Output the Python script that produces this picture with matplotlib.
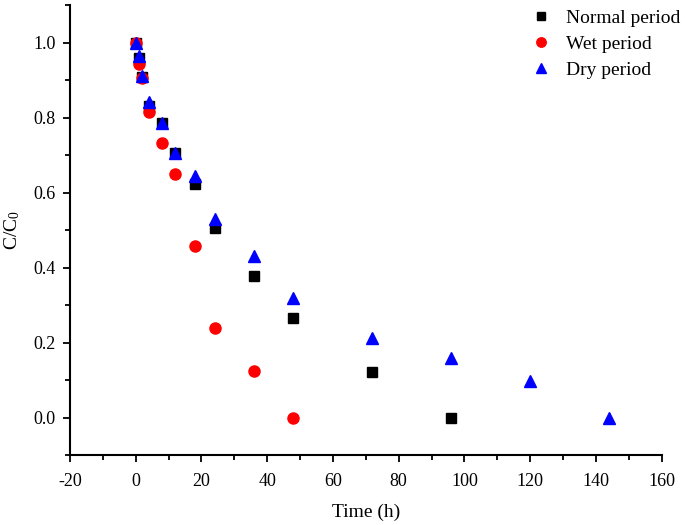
import numpy as np
import matplotlib
matplotlib.use('Agg')
import matplotlib.pyplot as plt
from matplotlib.ticker import MultipleLocator, FormatStrFormatter

plt.rcParams['font.family'] = ['Liberation Serif', 'DejaVu Serif']
plt.rcParams['mathtext.fontset'] = 'custom'
plt.rcParams['mathtext.rm'] = 'Liberation Serif'
plt.rcParams['mathtext.it'] = 'Liberation Serif:italic'
plt.rcParams['axes.unicode_minus'] = False

# sampling times (h)
timeNormal = [0, 1, 2, 4, 8, 12, 18, 24, 36, 48, 72, 96]
normal = [1.0, 0.96, 0.909, 0.832, 0.785, 0.706, 0.623, 0.507, 0.379, 0.265, 0.121, 0.0]

timeWet = [0, 1, 2, 4, 8, 12, 18, 24, 36, 48]
wet = [1.0, 0.944, 0.905, 0.814, 0.732, 0.650, 0.459, 0.240, 0.124, 0.0]

timeDry = [0, 1, 2, 4, 8, 12, 18, 24, 36, 48, 72, 96, 120, 144]
dry = [1.0, 0.965, 0.911, 0.842, 0.787, 0.707, 0.645, 0.531, 0.430, 0.320, 0.212, 0.159, 0.098, 0.0]

fig = plt.figure(figsize=(6.85, 5.25), dpi=100)
ax = fig.add_axes([0.102, 0.133, 0.864, 0.857])

ax.plot(timeNormal, normal, 's', color='black', ms=7, ls='none', label='Normal period')
ax.plot(timeWet, wet, 'o', color='red', ms=8, ls='none', label='Wet period')
ax.plot(timeDry, dry, '^', color='blue', ms=8, ls='none', label='Dry period')

ax.set_xlim(-20, 160)
ax.set_ylim(-0.1, 1.1)
ax.xaxis.set_major_locator(MultipleLocator(20))
ax.xaxis.set_minor_locator(MultipleLocator(10))
ax.yaxis.set_major_locator(MultipleLocator(0.2))
ax.yaxis.set_minor_locator(MultipleLocator(0.1))
ax.yaxis.set_major_formatter(FormatStrFormatter('%.1f'))

for s in ['top', 'right']:
    ax.spines[s].set_visible(False)
for s in ['left', 'bottom']:
    ax.spines[s].set_linewidth(1.5)

ax.tick_params(which='major', direction='out', length=5, width=1.3, labelsize=13)
ax.tick_params(axis='x', which='major', pad=8)
ax.tick_params(axis='y', which='major', pad=5)
ax.tick_params(which='minor', direction='out', length=3.5, width=1.3)

ax.set_xlabel('Time (h)', fontsize=14, labelpad=10)
ax.set_ylabel('C/C$_0$', fontsize=14, labelpad=8)

ax.legend(loc='upper right', frameon=False, fontsize=14, handletextpad=0.7,
          labelspacing=0.43, borderaxespad=0.0, handlelength=1.2, markerscale=0.85,
          bbox_to_anchor=(1.045, 1.008))

fig.savefig('out.png', dpi=100)
